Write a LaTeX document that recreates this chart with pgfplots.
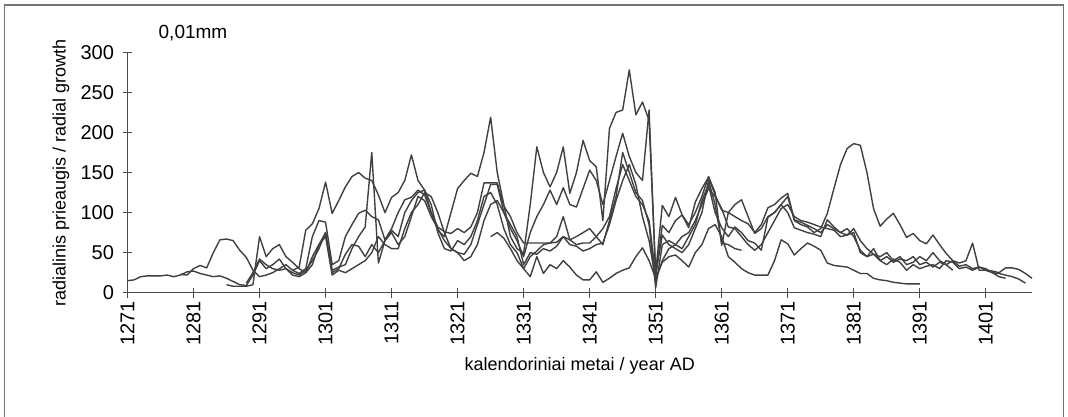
\documentclass[border=0pt]{standalone}
\usepackage{fontspec}
\setmainfont{Liberation Sans}
\usepackage{pgfplots}
\pgfplotsset{compat=1.18}
\begin{document}
\begin{tikzpicture}[x=1pt,y=1pt]
\useasboundingbox (0,0) rectangle (1068,416);
\draw[black!55, line width=1.5pt] (4.5,-5) -- (4.5,411) -- (1063.5,411) -- (1063.5,-5);
\node[anchor=center, font=\fontsize{19}{19}\selectfont] at (193,383) {0,01mm};
\begin{axis}[
  at={(127.5pt,123.3pt)}, anchor=south west,
  scale only axis, width=904.5pt, height=240.4pt,
  xmin=1271, xmax=1408, ymin=0, ymax=300,
  enlargelimits=false, clip=false,
  axis x line=bottom, axis y line=left,
  axis line style={-, draw=black!70, line width=1.3pt},
  xtick={1271,1281,...,1401}, ytick={0,50,...,300},
  tick align=center, major tick length=10pt,
  tick style={black!70, line width=1.2pt},
  /pgf/number format/1000 sep={},
  /pgf/number format/assume math mode=true,
  x tick label style={rotate=90, anchor=east, font=\fontsize{20}{20}\selectfont},
  y tick label style={font=\fontsize{20}{20}\selectfont, xshift=-5pt},
  xlabel={kalendoriniai metai / year AD},
  ylabel={radialinis prieaugis / radial growth},
  xlabel style={at={(axis description cs:0.5,-0.304)}, anchor=center, font=\fontsize{18}{18}\selectfont},
  ylabel style={at={(axis description cs:-0.0735,0.5)}, anchor=center, font=\fontsize{18}{18}\selectfont},
  every axis plot post/.append style={draw=black!75, solid, line width=1.4pt, mark=none, line join=round},
]
% S1
\addplot coordinates {(1271,15)(1272,16)(1273,20)(1274,21)(1275,21)(1276,21)(1277,22)(1278,20)(1279,22)(1280,26)(1281,27)(1282,24)(1283,22)(1284,20)(1285,21)(1286,18)(1287,14)(1288,10)(1289,9)(1290,22)(1291,40)(1292,30)(1293,35)(1294,42)(1295,30)(1296,25)(1297,22)(1298,28)(1299,40)(1300,55)(1301,75)(1302,25)(1303,30)(1304,48)(1305,60)(1306,58)(1307,45)(1308,60)(1309,50)(1310,65)(1311,75)(1312,60)(1313,70)(1314,95)(1315,120)(1316,115)(1317,95)(1318,80)(1319,65)(1320,55)(1321,50)(1322,48)(1323,60)(1324,85)(1325,110)(1326,135)(1327,135)(1328,100)(1329,80)(1330,65)(1331,45)(1332,75)(1333,95)(1334,110)(1335,128)(1336,110)(1337,131)(1338,110)(1339,107)(1340,130)(1341,153)(1342,140)(1343,110)(1344,140)(1345,170)(1346,199)(1347,170)(1348,150)(1349,140)(1350,228)(1351,20)(1352,84)(1353,75)(1354,90)(1355,97)(1356,81)(1357,113)(1358,130)(1359,144)(1360,122)(1361,103)(1362,100)(1363,95)(1364,90)(1365,86)(1366,75)(1367,85)(1368,106)(1369,110)(1370,118)(1371,124)(1372,91)(1373,88)(1374,84)(1375,80)(1376,75)(1377,85)(1378,80)(1379,75)(1380,80)(1381,70)(1382,53)(1383,45)(1384,48)(1385,40)(1386,45)(1387,38)(1388,42)(1389,40)(1390,45)(1391,35)(1392,38)(1393,32)(1394,38)(1395,35)(1396,40)(1397,33)(1398,35)(1399,30)(1400,32)(1401,28)(1402,25)(1403,24)(1404,22)(1405,20)(1406,17)(1407,12)};
% S2
\addplot coordinates {(1279,23)(1280,22)(1281,30)(1282,34)(1283,31)(1284,50)(1285,66)(1286,67)(1287,65)(1288,53)(1289,44)(1290,28)(1291,20)(1292,22)(1293,25)(1294,30)(1295,35)(1296,28)(1297,24)(1298,30)(1299,70)(1300,90)(1301,88)(1302,35)(1303,40)(1304,70)(1305,85)(1306,99)(1307,103)(1308,95)(1309,91)(1310,66)(1311,80)(1312,100)(1313,116)(1314,119)(1315,128)(1316,122)(1317,100)(1318,82)(1319,76)(1320,74)(1321,80)(1322,75)(1323,82)(1324,100)(1325,137)(1326,137)(1327,137)(1328,108)(1329,95)(1330,75)(1331,62)(1332,62)(1333,62)(1334,62)(1335,62)(1336,70)(1337,95)(1338,66)(1339,60)(1340,62)(1341,62)(1342,70)(1343,80)(1344,95)(1345,130)(1346,160)(1347,140)(1348,120)(1349,110)(1350,90)(1351,22)(1352,72)(1353,60)(1354,55)(1355,50)(1356,60)(1357,80)(1358,100)(1359,140)(1360,110)(1361,62)(1362,60)(1363,55)(1364,53)};
% S3
\addplot coordinates {(1286,10)(1287,8)(1288,8)(1289,8)(1290,10)(1291,70)(1292,45)(1293,55)(1294,60)(1295,45)(1296,38)(1297,30)(1298,25)(1299,35)(1300,60)(1301,75)(1302,28)(1303,32)(1304,35)(1305,55)(1306,70)(1307,82)(1308,175)(1309,37)(1310,65)(1311,78)(1312,70)(1313,100)(1314,115)(1315,125)(1316,128)(1317,110)(1318,75)(1319,55)(1320,52)(1321,65)(1322,60)(1323,70)(1324,90)(1325,120)(1326,125)(1327,110)(1328,80)(1329,60)(1330,50)(1331,30)(1332,45)(1333,52)(1334,60)(1335,62)(1336,63)(1337,70)(1338,66)(1339,70)(1340,75)(1341,80)(1342,70)(1343,60)(1344,90)(1345,120)(1346,175)(1347,150)(1348,125)(1349,115)(1350,85)(1351,6)(1352,60)(1353,65)(1354,60)(1355,55)(1356,70)(1357,85)(1358,115)(1359,135)(1360,100)(1361,81)(1362,70)(1363,82)(1364,75)(1365,65)(1366,62)(1367,53)(1368,94)(1369,100)(1370,110)(1371,100)(1372,81)(1373,78)(1374,75)(1375,73)(1376,70)(1377,91)(1378,82)(1379,75)(1380,72)(1381,75)(1382,50)(1383,45)(1384,55)(1385,40)(1386,35)(1387,42)(1388,38)(1389,28)(1390,35)(1391,30)(1392,33)(1393,35)(1394,30)(1395,40)(1396,38)(1397,30)(1398,32)(1399,28)(1400,32)(1401,30)(1402,25)(1403,20)(1404,18)};
% S4
\addplot coordinates {(1289,12)(1290,25)(1291,42)(1292,35)(1293,30)(1294,28)(1295,30)(1296,22)(1297,20)(1298,25)(1299,45)(1300,60)(1301,70)(1302,22)(1303,28)(1304,25)(1305,30)(1306,35)(1307,40)(1308,50)(1309,70)(1310,60)(1311,55)(1312,55)(1313,80)(1314,100)(1315,110)(1316,125)(1317,120)(1318,100)(1319,75)(1320,55)(1321,50)(1322,40)(1323,45)(1324,60)(1325,90)(1326,110)(1327,115)(1328,100)(1329,85)(1330,70)(1331,35)(1332,50)(1333,48)(1334,55)(1335,52)(1336,58)(1337,70)(1338,60)(1339,58)(1340,52)(1341,55)(1342,60)(1343,62)(1344,85)(1345,115)(1346,140)(1347,160)(1348,135)(1349,95)(1350,65)(1351,15)(1352,40)(1353,55)(1354,60)(1355,70)(1356,75)(1357,90)(1358,110)(1359,130)(1360,120)(1361,105)(1362,82)(1363,80)(1364,70)(1365,60)(1366,53)(1367,60)(1368,75)(1369,90)(1370,105)(1371,110)(1372,95)(1373,90)(1374,88)(1375,85)(1376,82)(1377,80)(1378,78)(1379,70)(1380,72)(1381,80)(1382,65)(1383,55)(1384,48)(1385,45)(1386,50)(1387,40)(1388,45)(1389,35)(1390,38)(1391,45)(1392,40)(1393,50)(1394,40)(1395,35)(1396,28)};
% T
\addplot coordinates {(1296,28)(1297,32)(1298,78)(1299,86)(1300,105)(1301,138)(1302,99)(1303,115)(1304,132)(1305,145)(1306,150)(1307,143)(1308,140)(1309,122)(1310,100)(1311,119)(1312,125)(1313,140)(1314,172)(1315,140)(1316,128)(1317,100)(1318,78)(1319,70)(1320,100)(1321,130)(1322,140)(1323,149)(1324,145)(1325,175)(1326,219)(1327,150)(1328,110)(1329,70)(1330,55)(1331,49)(1332,110)(1333,182)(1334,150)(1335,132)(1336,150)(1337,182)(1338,124)(1339,150)(1340,190)(1341,165)(1342,157)(1343,90)(1344,205)(1345,225)(1346,228)(1347,278)(1348,222)(1349,238)(1350,215)(1351,25)(1352,109)(1353,95)(1354,119)(1355,97)(1356,85)(1357,100)(1358,120)(1359,145)(1360,125)(1361,59)(1362,100)(1363,110)(1364,116)(1365,95)(1366,74)(1367,80)(1368,95)(1369,100)(1370,110)(1371,120)(1372,90)(1373,85)(1374,82)(1375,75)(1376,80)(1377,99)(1378,130)(1379,160)(1380,180)(1381,186)(1382,184)(1383,150)(1384,105)(1385,83)(1386,92)(1387,99)(1388,85)(1389,69)(1390,74)(1391,65)(1392,61)(1393,72)(1394,60)(1395,49)(1396,40)(1397,37)(1398,40)(1399,62)(1400,28)(1401,28)(1402,27)(1403,25)(1404,31)(1405,31)(1406,29)(1407,24)(1408,18)};
% F
\addplot coordinates {(1326,70)(1327,75)(1328,68)(1329,55)(1330,40)(1331,30)(1332,20)(1333,45)(1334,24)(1335,35)(1336,30)(1337,40)(1338,32)(1339,22)(1340,16)(1341,16)(1342,26)(1343,13)(1344,18)(1345,24)(1346,28)(1347,31)(1348,45)(1349,56)(1350,40)(1351,18)(1352,38)(1353,45)(1354,47)(1355,40)(1356,32)(1357,50)(1358,60)(1359,80)(1360,85)(1361,70)(1362,45)(1363,38)(1364,30)(1365,25)(1366,22)(1367,22)(1368,22)(1369,40)(1370,66)(1371,61)(1372,47)(1373,55)(1374,62)(1375,58)(1376,53)(1377,37)(1378,34)(1379,33)(1380,32)(1381,28)(1382,24)(1383,24)(1384,18)(1385,16)(1386,15)(1387,13)(1388,12)(1389,11)(1390,11)(1391,11)};
\end{axis}
\end{tikzpicture}
\end{document}
